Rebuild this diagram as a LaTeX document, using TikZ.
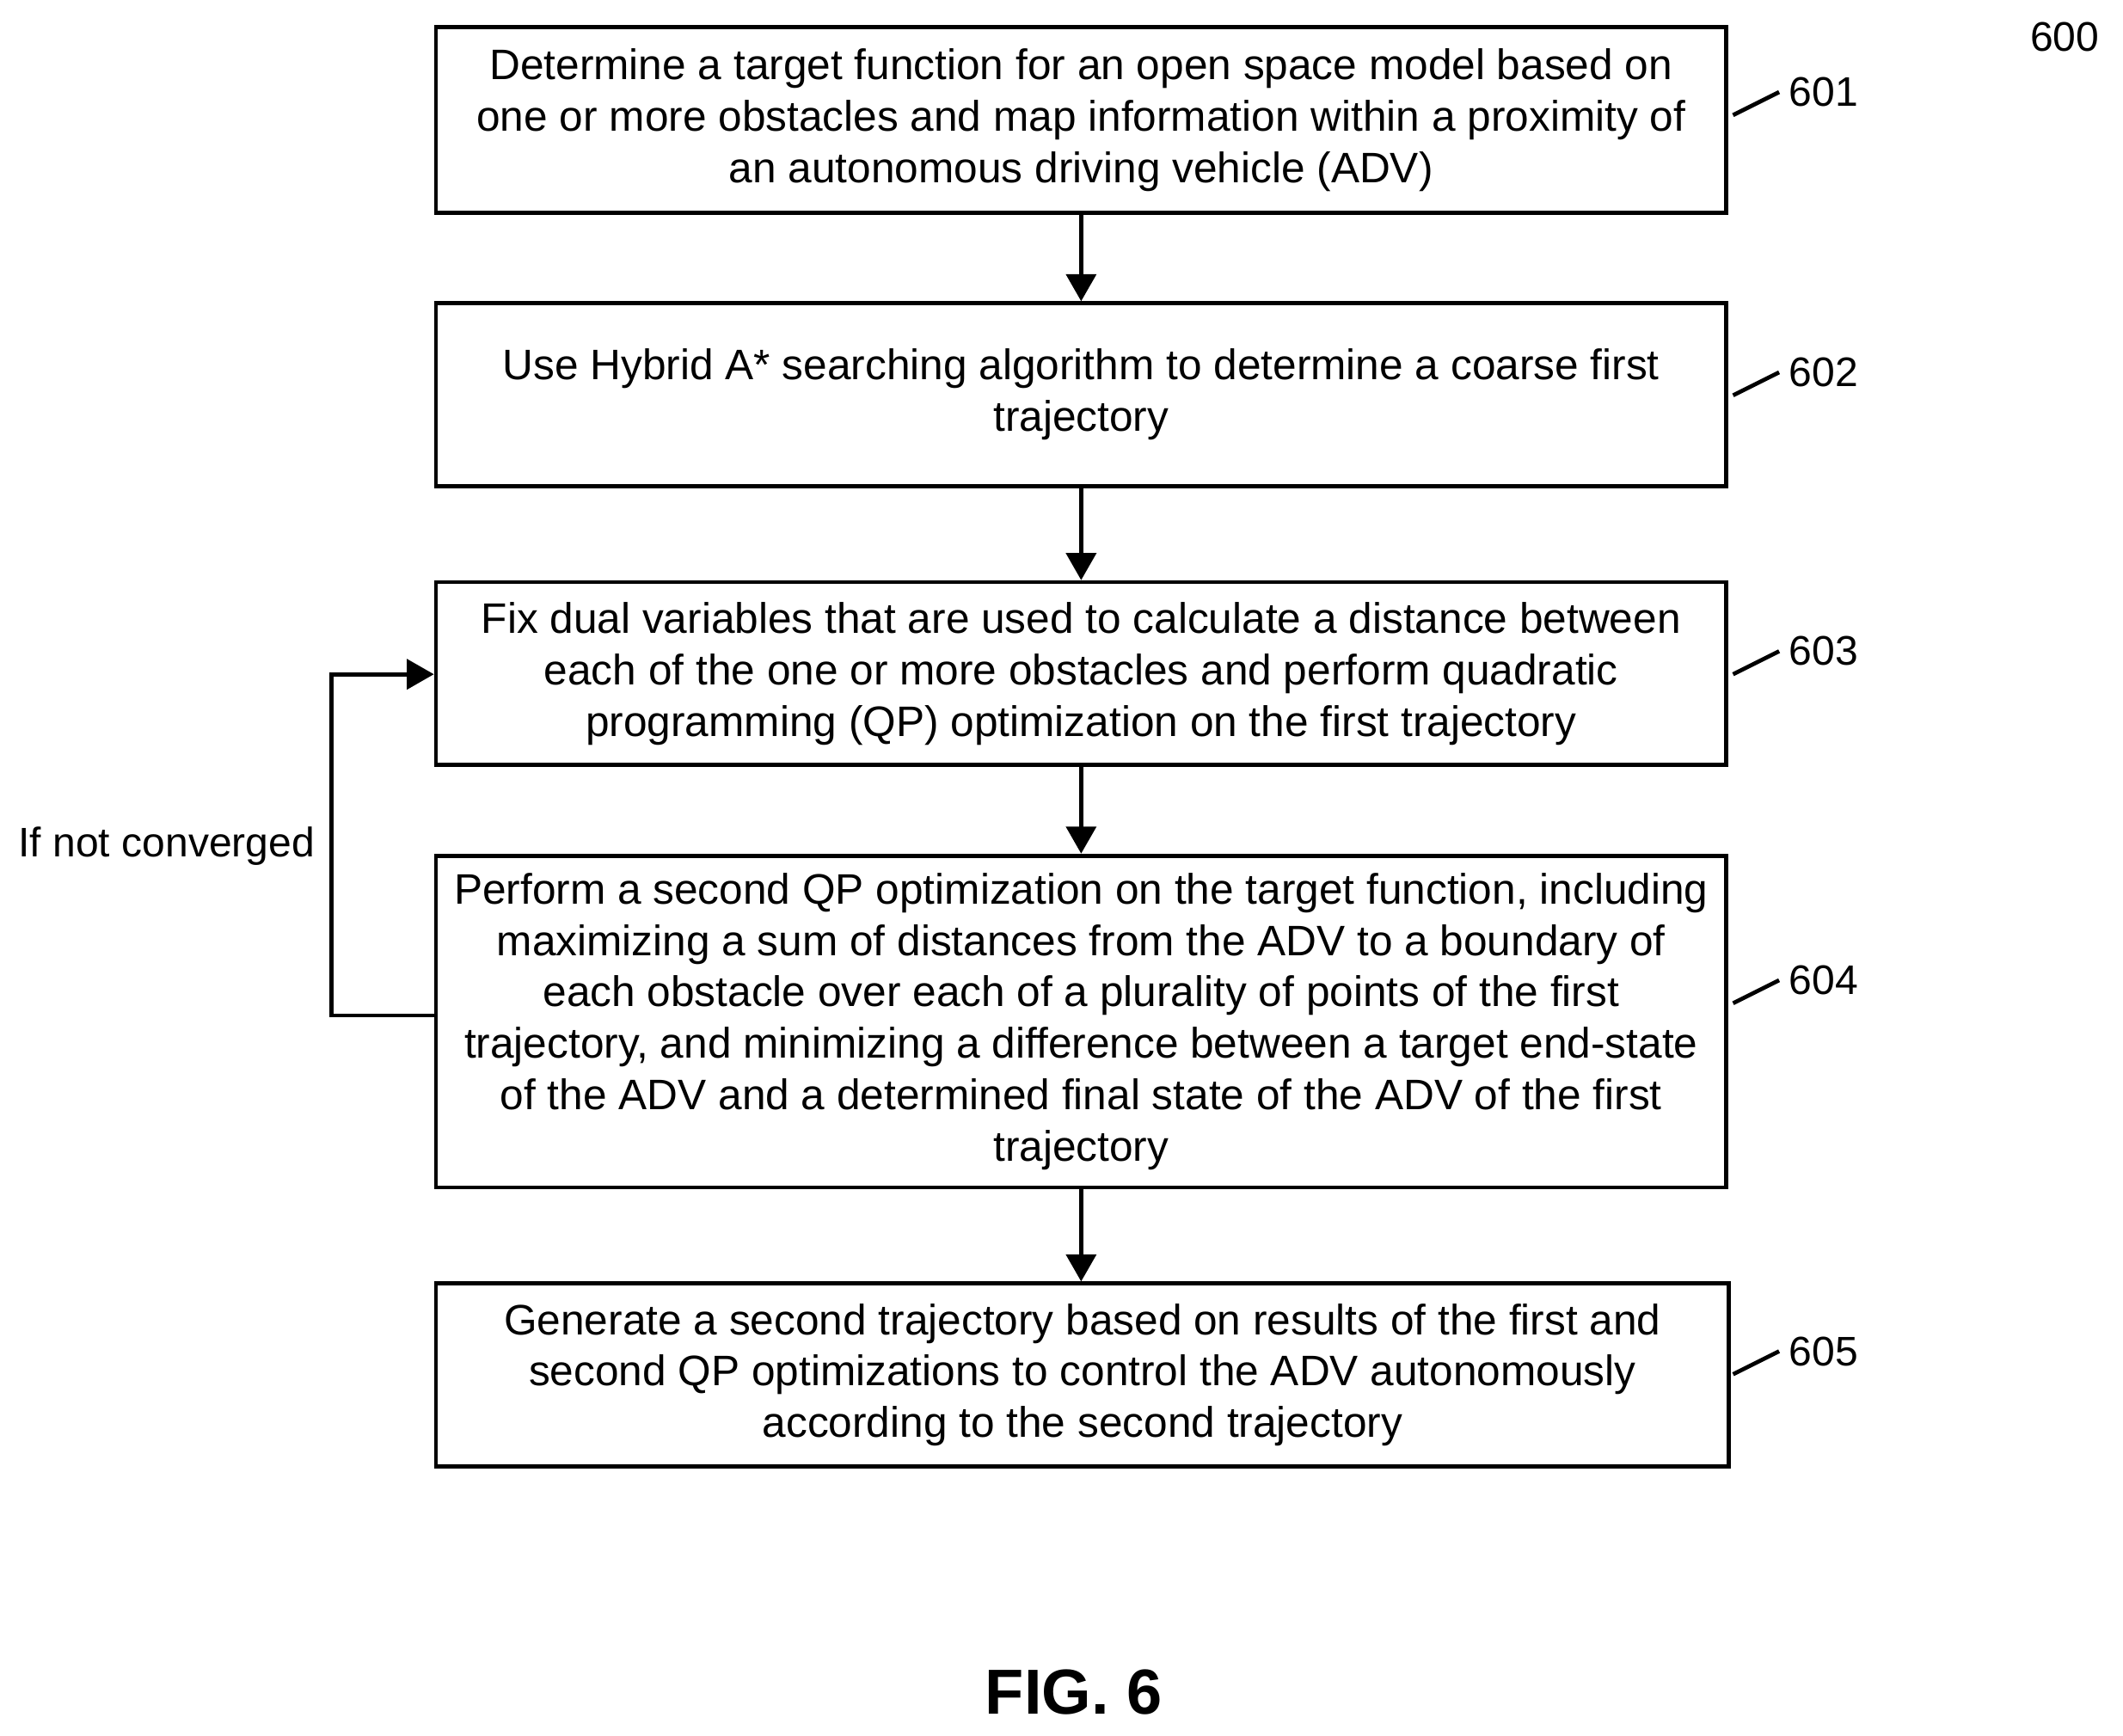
\documentclass[tikz,border=0pt]{standalone}
\usepackage{fontspec}
\setmainfont{Liberation Sans}
\usetikzlibrary{arrows.meta}
\begin{document}
\begin{tikzpicture}[x=1pt,y=-1pt,
 box/.style={draw,line width=3pt,minimum width=953pt,align=center,font=\fontsize{31.5}{38}\selectfont,inner sep=0pt},
 arr/.style={line width=3pt,-{Triangle[length=20pt,width=22pt]}},
 tick/.style={line width=3pt},
 lab/.style={font=\fontsize{30.5}{34}\selectfont,anchor=west}]
\useasboundingbox (0,0) rectangle (1568,1282);
\node[box,minimum height=137pt] (b1) at (798.5,88.5) {Determine a target function for an open space model based on\\one or more obstacles and map information within a proximity of\\an autonomous driving vehicle (ADV)};
\node[box,minimum height=135pt] (b2) at (798.5,291.5) {Use Hybrid A* searching algorithm to determine a coarse first\\trajectory};
\node[box,minimum height=135pt] (b3) at (798.5,497.5) {Fix dual variables that are used to calculate a distance between\\each of the one or more obstacles and perform quadratic\\programming (QP) optimization on the first trajectory};
\node[box,minimum height=245pt] (b4) at (798.5,754.5) {Perform a second QP optimization on the target function, including\\maximizing a sum of distances from the ADV to a boundary of\\each obstacle over each of a plurality of points of the first\\trajectory, and minimizing a difference between a target end-state\\of the ADV and a determined final state of the ADV of the first\\trajectory};
\node[box,minimum height=135pt,minimum width=955pt] (b5) at (799.5,1015.5) {Generate a second trajectory based on results of the first and\\second QP optimizations to control the ADV autonomously\\according to the second trajectory};
\draw[arr] (b1.south) -- (b2.north);
\draw[arr] (b2.south) -- (b3.north);
\draw[arr] (b3.south) -- (b4.north);
\draw[arr] (b4.south) -- (b4.south |- b5.north);
\coordinate (l1) at (245,750);
\coordinate (l2) at (245,498);
\draw[arr] (b4.west |- l1) -- (l1) -- (l2) -- (b3.west |- l2);
\node[font=\fontsize{30.5}{34}\selectfont] (nc) at (123,625) {If not converged};
\foreach \n/\y in {601/68,602/275,603/481,604/724,605/998}{
 \coordinate (t\n a) at (1280,\y+17);
 \coordinate (t\n b) at (1314,\y);
 \draw[tick] (t\n a) -- (t\n b);
 \node[lab] (l\n) at (1318,\y) {\n};
}
\node[font=\fontsize{30.5}{34}\selectfont] (n600) at (1525,27) {600};
\node[font=\bfseries\fontsize{47}{52}\selectfont] (fig) at (793,1250) {FIG. 6};
\end{tikzpicture}
\end{document}
